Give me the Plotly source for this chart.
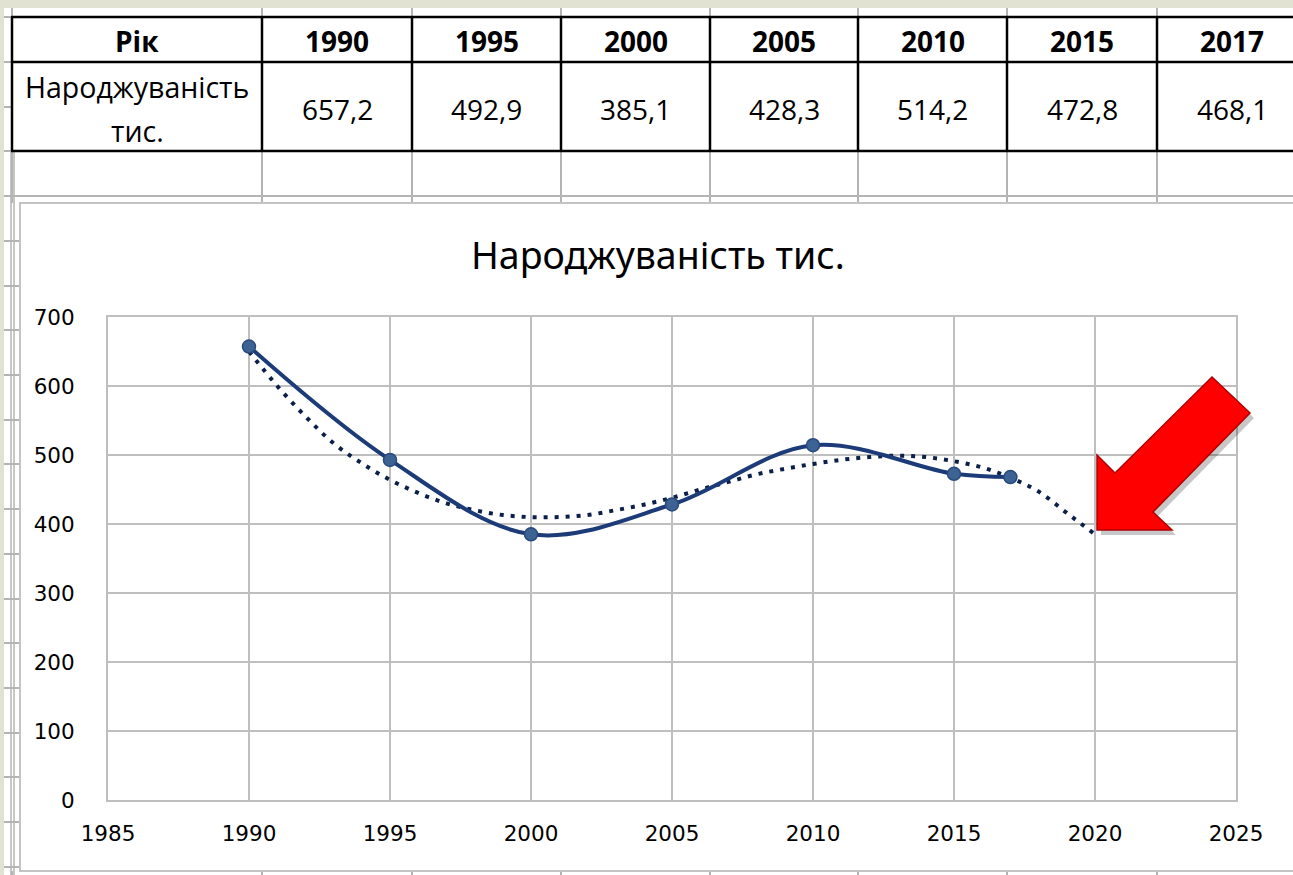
import plotly.graph_objects as go

# ---------------- data ----------------
years = [1990, 1995, 2000, 2005, 2010, 2015, 2017]
births = [657.2, 492.9, 385.1, 428.3, 514.2, 472.8, 468.1]
row_header = "Рік"
row_label = ["Народжуваність", "тис."]
chart_title = "Народжуваність тис."

# dotted trend line (yearly)
trend_years = list(range(1990, 2021))
trend_vals = [650, 600, 556, 517, 488, 464, 445, 430, 420, 413, 410,
              410, 413, 420, 428, 438, 450, 461, 472, 480, 487,
              493, 497, 499, 497, 491, 482, 467, 447, 416, 385]

x_ticks = [1985, 1990, 1995, 2000, 2005, 2010, 2015, 2020, 2025]
y_ticks = [0, 100, 200, 300, 400, 500, 600, 700]

W, H = 1293, 875


def X(p):
    return p / W


def Y(p):
    return 1 - p / H


fig = go.Figure()

fig.add_trace(go.Scatter(
    x=trend_years, y=trend_vals, mode="lines",
    line=dict(color="#0B1F4A", width=4, dash="4px,7px", shape="spline", smoothing=1.0),
    hoverinfo="skip", showlegend=False))

fig.add_trace(go.Scatter(
    x=years, y=births, mode="lines+markers",
    line=dict(color="#1C3B78", width=4, shape="spline", smoothing=1.0),
    marker=dict(size=13, color="#3D6394", line=dict(color="#2A4A7E", width=1.5)),
    showlegend=False))

shapes = []
GRID = "#B4B4B4"
BEIGE = "#E2E2D2"

# beige frame strips
shapes.append(dict(type="rect", xref="paper", yref="paper", x0=X(0), x1=X(4), y0=Y(875), y1=Y(0),
                   fillcolor=BEIGE, line=dict(width=0), layer="below"))
shapes.append(dict(type="rect", xref="paper", yref="paper", x0=X(0), x1=X(1293), y0=Y(8), y1=Y(0),
                   fillcolor=BEIGE, line=dict(width=0), layer="below"))

col_edges = [12, 262, 412, 561, 710, 858, 1007, 1157, 1307]
row_lines = [17, 62, 107, 151, 196, 241, 286, 330, 375, 420, 464, 509, 554,
             599, 643, 688, 733, 777, 822, 867]

# spreadsheet gridlines
for ce in col_edges[:-1]:
    shapes.append(dict(type="line", xref="paper", yref="paper", x0=X(ce), x1=X(ce), y0=Y(8), y1=Y(17),
                       line=dict(color=GRID, width=2), layer="below"))
    shapes.append(dict(type="line", xref="paper", yref="paper", x0=X(ce), x1=X(ce), y0=Y(151), y1=Y(203),
                       line=dict(color=GRID, width=2), layer="below"))
    shapes.append(dict(type="line", xref="paper", yref="paper", x0=X(ce), x1=X(ce), y0=Y(871), y1=Y(875),
                       line=dict(color=GRID, width=2), layer="below"))
for xx in (11, 14):
    shapes.append(dict(type="line", xref="paper", yref="paper", x0=X(xx), x1=X(xx), y0=Y(151), y1=Y(875),
                       line=dict(color=GRID, width=1.5), layer="below"))
shapes.append(dict(type="line", xref="paper", yref="paper", x0=X(4), x1=X(1293), y0=Y(196), y1=Y(196),
                   line=dict(color=GRID, width=2), layer="below"))
for rl in row_lines:
    x1 = 20 if rl > 200 else 12
    shapes.append(dict(type="line", xref="paper", yref="paper", x0=X(4), x1=X(x1), y0=Y(rl), y1=Y(rl),
                       line=dict(color=GRID, width=2), layer="below"))

# chart area
shapes.append(dict(type="rect", xref="paper", yref="paper", x0=X(20), x1=X(1310), y0=Y(871), y1=Y(203),
                   fillcolor="white", line=dict(color="#C4C4C4", width=2), layer="below"))

# table borders
for ce in col_edges[:-1]:
    shapes.append(dict(type="line", xref="paper", yref="paper", x0=X(ce), x1=X(ce), y0=Y(151), y1=Y(17),
                       line=dict(color="black", width=2.5)))
for rl in (17, 62, 151):
    shapes.append(dict(type="line", xref="paper", yref="paper", x0=X(11), x1=X(1293), y0=Y(rl), y1=Y(rl),
                       line=dict(color="black", width=2.5)))

# red arrow (with soft shadow)
arrow = [(1097, 530), (1097, 455), (1115, 473), (1212, 377), (1250, 413), (1153, 512), (1172, 530)]


def path_of(pts, dx=0, dy=0):
    s = "M " + " L ".join(f"{X(a + dx):.5f},{Y(b + dy):.5f}" for a, b in pts) + " Z"
    return s


shapes.append(dict(type="path", xref="paper", yref="paper", path=path_of(arrow, 4, 5),
                   fillcolor="rgba(0,0,0,0.22)", line=dict(width=0)))
shapes.append(dict(type="path", xref="paper", yref="paper", path=path_of(arrow),
                   fillcolor="#FF0000", line=dict(color="#B00000", width=1.5)))

annotations = []
TFONT = "Open Sans"
headers = [row_header] + [str(y) for y in years]
for i, h in enumerate(headers):
    cx = (col_edges[i] + col_edges[i + 1]) / 2
    annotations.append(dict(xref="paper", yref="paper", x=X(cx), y=Y(41), text=f"<b>{h}</b>",
                            showarrow=False, xanchor="center", yanchor="middle",
                            font=dict(family=TFONT, size=28, color="black")))
    if i > 0:
        v = births[i - 1]
        annotations.append(dict(xref="paper", yref="paper", x=X(cx), y=Y(109),
                                text=f"{v:.1f}".replace(".", ","),
                                showarrow=False, xanchor="center", yanchor="middle",
                                font=dict(family=TFONT, size=28, color="black")))
for txt, yy in zip(row_label, (87, 131)):
    annotations.append(dict(xref="paper", yref="paper", x=X(137), y=Y(yy), text=txt,
                            showarrow=False, xanchor="center", yanchor="middle",
                            font=dict(family=TFONT, size=28.5, color="black")))

annotations.append(dict(xref="paper", yref="paper", x=X(658), y=Y(255), text=chart_title,
                        showarrow=False, xanchor="center", yanchor="middle",
                        font=dict(family="Noto Sans", size=37.5, color="black")))

fig.update_layout(
    width=W, height=H, margin=dict(l=0, r=0, t=0, b=0, pad=0, autoexpand=False),
    paper_bgcolor="white", plot_bgcolor="rgba(0,0,0,0)",
    shapes=shapes, annotations=annotations, showlegend=False,
    xaxis=dict(domain=[X(108), X(1236)], range=[1985, 2025], tickvals=x_ticks,
               showgrid=True, gridcolor="#BFBFBF", gridwidth=2, zeroline=False,
               showline=True, linecolor="#BFBFBF", linewidth=2, mirror=True,
               ticks="", ticklabelstandoff=13, automargin=False,
               tickfont=dict(family="DejaVu Sans", size=21.5, color="black")),
    yaxis=dict(domain=[Y(800), Y(317)], range=[0, 700], tickvals=y_ticks,
               showgrid=True, gridcolor="#BFBFBF", gridwidth=2, zeroline=False,
               showline=True, linecolor="#BFBFBF", linewidth=2, mirror=True,
               ticks="", ticklabelstandoff=27, automargin=False,
               tickfont=dict(family="DejaVu Sans", size=21.5, color="black")),
)

fig.write_html("out.html", config={"displayModeBar": False},
               post_script="document.body.style.margin='0px';")
